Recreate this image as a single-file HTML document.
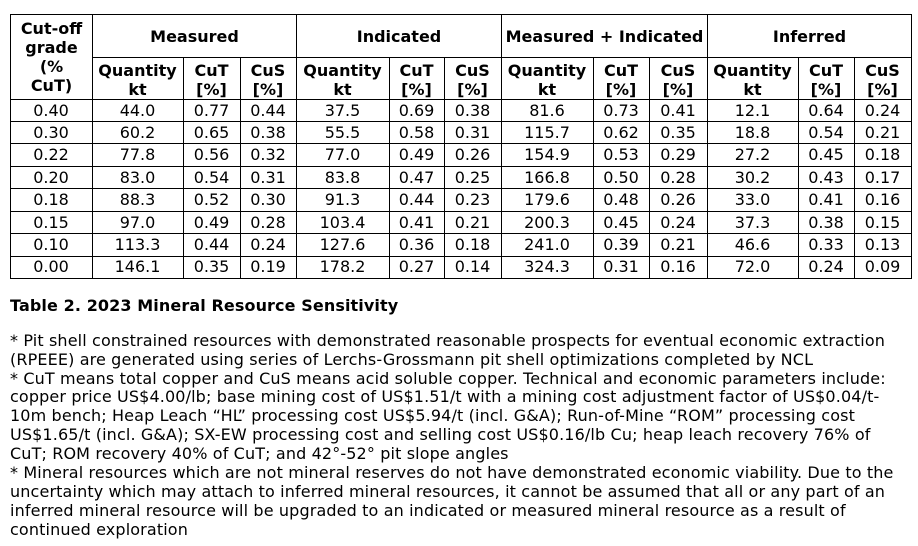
<!DOCTYPE html>
<html>
<head>
<meta charset="utf-8">
<style>
  html, body { margin:0; padding:0; background:#fff; }
  body { width:918px; height:546px; position:relative; overflow:hidden;
         font-family:"DejaVu Sans","Liberation Sans",sans-serif; color:#000; font-size:16px; }
  .h { position:absolute; height:1px; background:#000; }
  .v { position:absolute; width:1px; background:#000; }
  .cell { position:absolute; display:flex; align-items:center; justify-content:center; text-align:center; }
  .b { font-weight:bold; }
  .grid { position:absolute; left:10px; display:grid;
          grid-template-columns:82px 91px 57px 56px 93px 55px 57px 92px 56px 58px 91px 56px 57px; }
  .grid > div { display:flex; align-items:center; justify-content:center; text-align:center; line-height:19px; white-space:nowrap; }
  .data { top:99px; grid-template-rows:repeat(8, 22.375px); }
  .sub { top:57px; grid-template-rows:42px; font-weight:bold; }
  .sub > div { padding-top:3px; box-sizing:border-box; }
  .title { position:absolute; left:10px; top:295.7px; font-weight:bold; line-height:19px; white-space:nowrap; letter-spacing:0.1px; }
  .notes { position:absolute; left:10px; top:331.7px; line-height:18.9px; white-space:nowrap; letter-spacing:0.13px; }
</style>
</head>
<body>

<!-- horizontal lines -->
<div class="h" style="left:10px; width:902px; top:14px;"></div>
<div class="h" style="left:92px; width:820px; top:57px;"></div>
<div class="h" style="left:10px; width:902px; top:99px;"></div>
<div class="h" style="left:10px; width:902px; top:121px;"></div>
<div class="h" style="left:10px; width:902px; top:143px;"></div>
<div class="h" style="left:10px; width:902px; top:166px;"></div>
<div class="h" style="left:10px; width:902px; top:188px;"></div>
<div class="h" style="left:10px; width:902px; top:211px;"></div>
<div class="h" style="left:10px; width:902px; top:233px;"></div>
<div class="h" style="left:10px; width:902px; top:256px;"></div>
<div class="h" style="left:10px; width:902px; top:278px;"></div>

<!-- vertical lines -->
<div class="v" style="left:10px; top:14px; height:265px;"></div>
<div class="v" style="left:92px; top:14px; height:265px;"></div>
<div class="v" style="left:183px; top:57px; height:222px;"></div>
<div class="v" style="left:240px; top:57px; height:222px;"></div>
<div class="v" style="left:296px; top:14px; height:265px;"></div>
<div class="v" style="left:389px; top:57px; height:222px;"></div>
<div class="v" style="left:444px; top:57px; height:222px;"></div>
<div class="v" style="left:501px; top:14px; height:265px;"></div>
<div class="v" style="left:593px; top:57px; height:222px;"></div>
<div class="v" style="left:649px; top:57px; height:222px;"></div>
<div class="v" style="left:707px; top:14px; height:265px;"></div>
<div class="v" style="left:798px; top:57px; height:222px;"></div>
<div class="v" style="left:854px; top:57px; height:222px;"></div>
<div class="v" style="left:911px; top:14px; height:265px;"></div>

<!-- header -->
<div class="cell b" style="left:11px; top:15px; width:81px; height:84px; line-height:19.1px;">Cut-off<br>grade<br>(%<br>CuT)</div>
<div class="cell b" style="left:93px; top:15px; width:203px; height:42px; line-height:19px;">Measured</div>
<div class="cell b" style="left:297px; top:15px; width:204px; height:42px; line-height:19px;">Indicated</div>
<div class="cell b" style="left:502px; top:15px; width:205px; height:42px; line-height:19px; white-space:nowrap;">Measured + Indicated</div>
<div class="cell b" style="left:708px; top:15px; width:203px; height:42px; line-height:19px;">Inferred</div>

<div class="grid sub">
  <div></div>
  <div>Quantity<br>kt</div><div>CuT<br>[%]</div><div>CuS<br>[%]</div>
  <div>Quantity<br>kt</div><div>CuT<br>[%]</div><div>CuS<br>[%]</div>
  <div>Quantity<br>kt</div><div>CuT<br>[%]</div><div>CuS<br>[%]</div>
  <div>Quantity<br>kt</div><div>CuT<br>[%]</div><div>CuS<br>[%]</div>
</div>

<div class="grid data">
  <div>0.40</div><div>44.0</div><div>0.77</div><div>0.44</div><div>37.5</div><div>0.69</div><div>0.38</div><div>81.6</div><div>0.73</div><div>0.41</div><div>12.1</div><div>0.64</div><div>0.24</div>
  <div>0.30</div><div>60.2</div><div>0.65</div><div>0.38</div><div>55.5</div><div>0.58</div><div>0.31</div><div>115.7</div><div>0.62</div><div>0.35</div><div>18.8</div><div>0.54</div><div>0.21</div>
  <div>0.22</div><div>77.8</div><div>0.56</div><div>0.32</div><div>77.0</div><div>0.49</div><div>0.26</div><div>154.9</div><div>0.53</div><div>0.29</div><div>27.2</div><div>0.45</div><div>0.18</div>
  <div>0.20</div><div>83.0</div><div>0.54</div><div>0.31</div><div>83.8</div><div>0.47</div><div>0.25</div><div>166.8</div><div>0.50</div><div>0.28</div><div>30.2</div><div>0.43</div><div>0.17</div>
  <div>0.18</div><div>88.3</div><div>0.52</div><div>0.30</div><div>91.3</div><div>0.44</div><div>0.23</div><div>179.6</div><div>0.48</div><div>0.26</div><div>33.0</div><div>0.41</div><div>0.16</div>
  <div>0.15</div><div>97.0</div><div>0.49</div><div>0.28</div><div>103.4</div><div>0.41</div><div>0.21</div><div>200.3</div><div>0.45</div><div>0.24</div><div>37.3</div><div>0.38</div><div>0.15</div>
  <div>0.10</div><div>113.3</div><div>0.44</div><div>0.24</div><div>127.6</div><div>0.36</div><div>0.18</div><div>241.0</div><div>0.39</div><div>0.21</div><div>46.6</div><div>0.33</div><div>0.13</div>
  <div>0.00</div><div>146.1</div><div>0.35</div><div>0.19</div><div>178.2</div><div>0.27</div><div>0.14</div><div>324.3</div><div>0.31</div><div>0.16</div><div>72.0</div><div>0.24</div><div>0.09</div>
</div>

<div class="title">Table 2. 2023 Mineral Resource Sensitivity</div>

<div class="notes">* Pit shell constrained resources with demonstrated reasonable prospects for eventual economic extraction<br>(RPEEE) are generated using series of Lerchs-Grossmann pit shell optimizations completed by NCL<br>* CuT means total copper and CuS means acid soluble copper. Technical and economic parameters include:<br>copper price US$4.00/lb; base mining cost of US$1.51/t with a mining cost adjustment factor of US$0.04/t-<br>10m bench; Heap Leach “HL” processing cost US$5.94/t (incl. G&amp;A); Run-of-Mine “ROM” processing cost<br>US$1.65/t (incl. G&amp;A); SX-EW processing cost and selling cost US$0.16/lb Cu; heap leach recovery 76% of<br>CuT; ROM recovery 40% of CuT; and 42°-52° pit slope angles<br>* Mineral resources which are not mineral reserves do not have demonstrated economic viability. Due to the<br>uncertainty which may attach to inferred mineral resources, it cannot be assumed that all or any part of an<br>inferred mineral resource will be upgraded to an indicated or measured mineral resource as a result of<br>continued exploration</div>

</body>
</html>
